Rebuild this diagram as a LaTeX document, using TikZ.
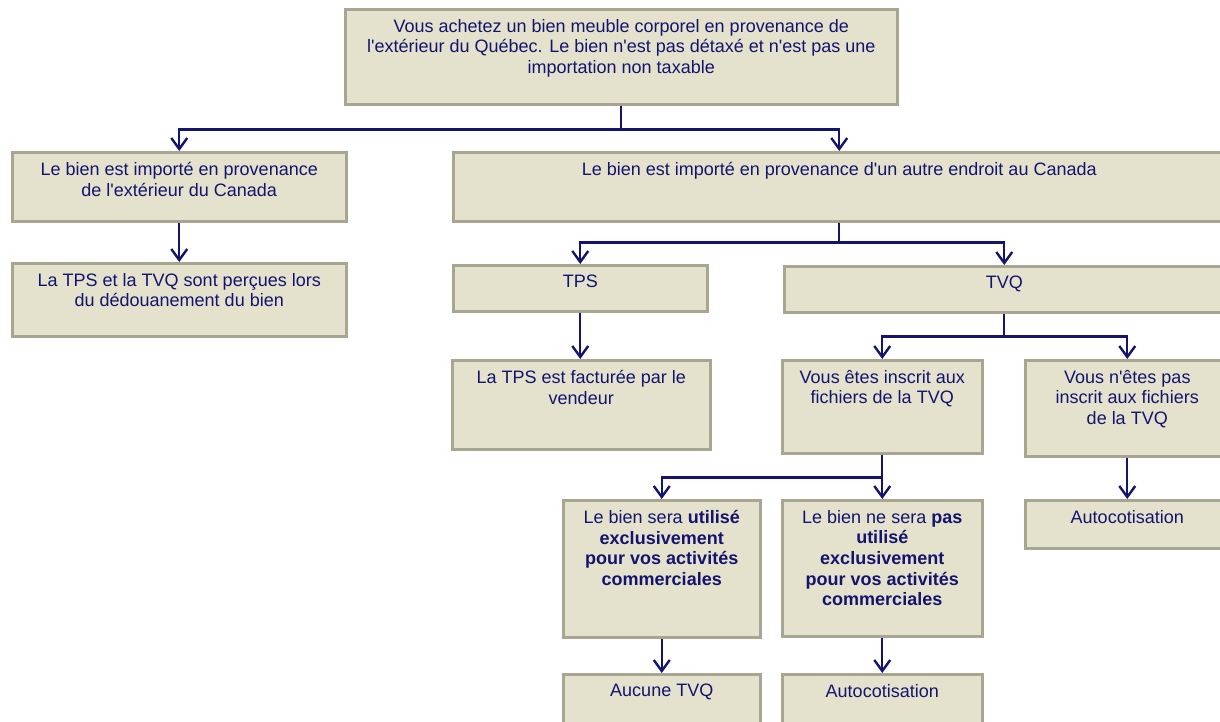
\documentclass[tikz,border=0pt]{standalone}
\usepackage{fontspec}
\newfontfamily\flowfont{Liberation Sans}
\usetikzlibrary{arrows.meta}
\definecolor{boxfill}{RGB}{228,226,204}
\definecolor{boxline}{RGB}{168,166,144}
\definecolor{navy}{RGB}{20,20,110}
\tikzset{>={Straight Barb[length=11pt,width=16pt]}}
\newcommand{\boxbody}[3]{\parbox[t][#2][t]{#1}{\centering\vspace*{10pt}#3\par}}

\begin{document}
\begin{tikzpicture}[x=1pt,y=-1pt,
  box/.style={draw=boxline,fill=boxfill,line width=2.5pt,inner sep=0pt,anchor=north west,
    text=navy,font=\flowfont\fontsize{18}{20.6}\selectfont},
  link/.style={->,draw=navy,line width=2.4pt}]

\path[use as bounding box,clip] (0,0) rectangle (1220,721);

% Starting point
\node[box] (achat) at (344,8) {\boxbody{552pt}{95pt}{Vous achetez un bien meuble corporel en provenance de\\
  l'extérieur du Québec. Le bien n'est pas détaxé et n'est pas une\\ importation non taxable}};

% Origin of the goods
\node[box] (horsCanada) at (11,151) {\boxbody{334pt}{69pt}{Le bien est importé en provenance\\ de l'extérieur du Canada}};
\node[box] (autreCanada) at (452,151) {\boxbody{772pt}{69pt}{Le bien est importé en provenance d'un autre endroit au Canada}};
\node[box] (douane) at (11,262) {\boxbody{334pt}{73pt}{La TPS et la TVQ sont perçues lors\\ du dédouanement du bien}};

% Taxes
\node[box] (tps) at (452,264) {\boxbody{254pt}{46pt}{TPS}};
\node[box] (tvq) at (783,265) {\boxbody{440pt}{46pt}{TVQ}};
\node[box] (facture) at (451,359) {\boxbody{258pt}{89pt}{La TPS est facturée par le\\ vendeur}};

% Registration
\node[box] (inscrit) at (781,359) {\boxbody{200pt}{93pt}{Vous êtes inscrit aux\\ fichiers de la TVQ}};
\node[box] (noninscrit) at (1024,359) {\boxbody{204pt}{96pt}{Vous n'êtes pas\\ inscrit aux fichiers\\ de la TVQ}};
\node[box] (auto1) at (1024,499) {\boxbody{204pt}{48pt}{Autocotisation}};

% Use of the goods
\node[box] (utilise) at (562,499) {\boxbody{197pt}{137pt}{Le bien sera \textbf{utilisé}\\ \textbf{exclusivement}\\
  \textbf{pour vos activités}\\ \textbf{commerciales}}};
\node[box] (pasutilise) at (781,499) {\boxbody{200pt}{136pt}{Le bien ne sera \textbf{pas}\\ \textbf{utilisé}\\
  \textbf{exclusivement}\\ \textbf{pour vos activités}\\ \textbf{commerciales}}};
\node[box] (aucune) at (562,673) {\boxbody{197pt}{60pt}{Aucune TVQ}};
\node[box] (auto2) at (781,673) {\boxbody{200pt}{60pt}{Autocotisation}};

% Connectors
\draw[link] (achat.south) -- ++(0,24) -| (horsCanada.north);
\draw[link] (achat.south) -- ++(0,24) -| (autreCanada.north);
\draw[link] (horsCanada.south) -- (horsCanada.south |- douane.north);
\draw[link] (autreCanada.south) -- ++(0,20) -| (tps.north);
\draw[link] (autreCanada.south) -- ++(0,20) -| (tvq.north);
\draw[link] (tps.south) -- (tps.south |- facture.north);
\draw[link] (tvq.south) -- ++(0,23) -| (inscrit.north);
\draw[link] (tvq.south) -- ++(0,23) -| (noninscrit.north);
\draw[link] (inscrit.south) -- ++(0,23) -| (utilise.north);
\draw[link] (inscrit.south) -- (inscrit.south |- pasutilise.north);
\draw[link] (noninscrit.south) -- (noninscrit.south |- auto1.north);
\draw[link] (utilise.south) -- (utilise.south |- aucune.north);
\draw[link] (pasutilise.south) -- (pasutilise.south |- auto2.north);

\end{tikzpicture}
\end{document}
